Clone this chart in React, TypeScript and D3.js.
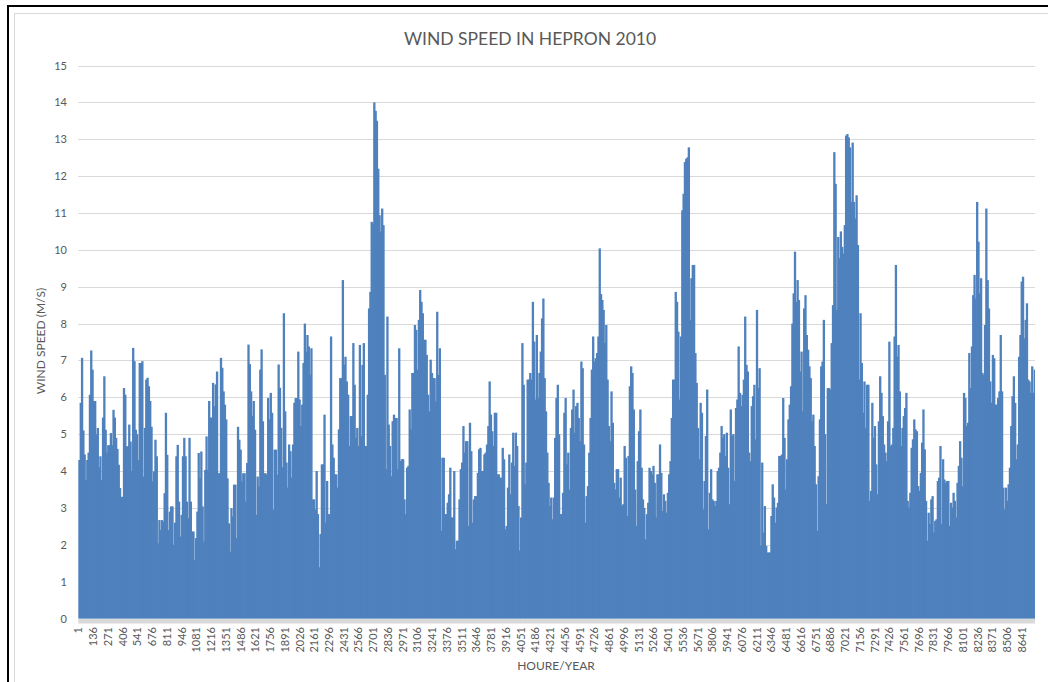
import React from "react";
import * as d3 from "d3";

// Wind speed (m/s), one value per 12-hour block of 2010 (730 blocks)
const hoursPerBlock = 12;
const windSpeed: number[] = [
  4.3,5.85,7.07,5.1,4.45,3.76,4.3,4.5,6.07,7.27,
  6.75,5.9,5.9,5.0,5.17,4.1,4.4,3.76,5.45,6.57,
  5.12,4.5,4.7,4.7,5.03,4.7,5.66,5.45,4.9,4.6,
  4.17,3.54,3.3,3.3,6.25,6.07,4.67,4.67,5.26,4.8,
  4.0,7.34,6.98,5.12,5.0,4.3,6.93,6.93,6.98,3.85,
  5.17,6.48,6.53,6.3,5.9,5.2,3.72,3.99,4.85,4.4,
  2.04,2.67,2.4,2.67,2.63,3.4,5.58,4.44,2.4,2.9,
  3.04,3.04,2.0,2.6,4.4,4.71,3.17,2.22,2.81,4.4,
  4.9,4.4,3.17,2.72,4.9,3.17,2.36,2.36,1.59,2.18,
  2.9,4.49,3.8,4.53,3.04,2.09,4.03,4.94,4.03,5.9,
  5.45,5.45,6.39,5.76,6.35,6.7,3.94,3.94,7.07,6.8,
  6.16,5.8,5.4,3.8,2.58,1.81,2.99,2.77,3.63,3.63,
  2.18,5.2,4.85,4.58,3.72,3.94,3.94,3.17,4.22,7.43,
  6.9,6.16,5.5,5.9,5.12,2.81,3.85,3.58,6.75,7.3,
  5.35,3.94,3.94,3.9,5.98,5.4,6.12,5.58,2.95,4.58,
  4.58,3.9,6.89,6.26,5.17,4.1,8.28,5.62,4.23,3.55,
  4.72,4.54,3.82,4.72,5.85,5.98,5.98,7.24,5.94,5.22,
  5.8,6.93,8.0,7.24,7.69,7.38,6.61,7.33,3.23,3.23,
  2.96,4.0,2.83,1.39,2.29,4.18,4.18,5.53,2.6,3.73,
  2.83,2.83,7.65,4.72,4.36,3.91,3.91,3.55,5.13,6.52,
  6.52,9.18,6.88,7.1,6.43,6.07,4.68,5.49,5.49,7.47,
  6.34,4.9,5.17,4.68,7.42,4.95,6.88,7.47,4.68,4.68,
  6.07,8.41,8.86,10.76,10.71,14.0,13.77,13.5,12.2,10.94,
  10.49,11.12,10.67,6.61,4.05,8.19,5.26,4.68,3.86,5.35,
  5.53,5.44,5.44,4.05,7.33,4.27,4.32,4.32,3.23,2.83,
  4.09,4.14,5.67,5.13,6.66,6.66,7.96,7.83,6.75,8.1,
  8.91,8.59,8.28,7.56,7.56,7.15,6.07,5.62,7.02,6.66,
  6.52,6.52,5.89,8.32,6.61,7.33,2.38,4.36,4.36,2.83,
  2.83,3.14,3.37,4.09,2.74,2.74,4.0,1.88,2.11,2.11,
  3.23,4.05,4.23,5.22,4.5,4.81,4.81,2.51,5.31,4.54,
  2.6,3.23,3.32,3.32,3.95,4.59,4.63,4.0,4.0,4.45,
  4.5,4.72,5.22,6.43,5.53,5.08,4.68,5.58,5.58,3.91,
  3.91,3.82,3.82,4.63,4.32,2.42,2.51,3.55,4.45,3.37,
  4.23,5.04,4.14,5.04,4.68,3.05,1.84,2.74,7.47,6.34,
  3.64,4.23,6.48,6.48,6.66,6.48,8.59,7.51,5.94,7.69,
  5.98,6.66,7.24,8.14,8.68,6.52,5.62,4.5,3.68,3.05,
  3.28,2.69,3.28,4.9,5.98,6.34,5.0,2.83,2.83,3.41,
  5.58,5.98,4.18,4.5,3.5,5.17,5.67,6.21,5.04,5.76,
  5.85,5.44,4.81,6.97,6.79,4.72,2.6,3.32,3.59,4.5,
  5.44,6.75,7.65,6.97,7.06,7.2,7.65,10.04,8.8,8.64,
  8.37,7.47,7.96,6.48,5.22,4.81,6.16,5.31,3.68,3.5,
  4.05,4.05,3.28,3.82,3.05,3.1,4.68,4.36,2.78,4.41,
  6.3,6.84,6.66,5.67,3.5,2.51,4.27,5.08,5.67,4.09,
  3.23,3.0,2.15,2.83,3.14,4.09,4.0,3.91,4.14,3.68,
  2.74,3.91,3.91,4.72,3.95,2.92,3.37,3.19,2.87,3.41,
  3.91,4.27,5.44,6.48,6.48,8.86,8.59,7.78,5.94,7.65,
  11.07,11.52,12.38,12.47,12.51,12.78,8.1,9.23,9.59,9.59,
  7.2,6.39,5.17,4.32,5.85,5.58,2.96,3.73,4.95,6.21,
  2.42,3.41,4.05,3.23,3.19,3.05,3.19,4.0,4.09,4.5,
  5.22,4.9,5.0,4.41,5.04,4.09,3.1,5.67,4.95,5.0,
  3.73,5.71,5.94,7.38,6.12,5.76,6.07,6.48,8.19,6.88,
  6.7,4.5,4.27,5.76,6.03,6.34,4.86,8.37,6.25,6.79,
  1.97,4.23,2.33,3.05,1.97,1.79,1.79,1.79,2.78,3.64,
  3.28,2.6,3.01,3.14,4.41,4.41,4.45,5.98,4.9,3.5,
  4.32,5.4,5.8,6.3,8.0,8.82,9.95,8.59,9.18,8.64,
  6.7,7.24,5.62,8.41,8.77,7.69,7.29,6.84,6.52,5.35,
  5.53,4.68,3.64,2.38,3.86,5.4,6.84,6.97,8.1,5.0,
  3.1,6.25,6.25,6.21,7.47,8.5,12.65,11.79,8.37,10.35,
  9.77,10.5,10.08,9.9,10.67,13.1,13.14,13.05,12.78,11.3,
  12.91,11.3,10.85,11.48,10.13,6.48,8.28,6.93,5.58,6.43,
  5.17,6.34,6.34,3.19,3.46,5.85,4.9,5.22,4.18,3.37,
  5.35,6.57,6.12,5.49,4.72,4.5,4.27,5.35,7.51,4.68,
  4.72,5.17,7.65,9.59,7.1,7.42,6.16,4.68,5.17,5.49,
  5.71,6.12,3.19,3.01,3.41,4.63,4.86,5.4,5.13,5.08,
  3.59,3.46,3.95,4.77,5.67,4.59,3.19,2.11,2.87,2.56,
  3.23,3.32,2.33,2.65,2.69,3.73,3.82,4.68,2.56,4.32,
  3.77,3.68,3.73,3.73,2.51,3.14,3.01,3.41,3.19,2.74,
  3.68,4.14,4.81,4.36,3.59,6.12,5.98,5.22,5.31,7.2,
  6.25,7.38,8.77,9.32,8.68,11.3,10.22,8.82,9.23,6.66,
  6.61,7.96,11.12,9.18,8.41,6.43,5.85,7.15,7.06,5.8,
  5.8,5.98,6.16,7.69,6.16,3.55,2.96,3.55,3.19,3.64,
  4.09,5.22,6.03,6.57,5.85,4.32,4.72,7.1,7.69,9.14,
  9.27,7.6,8.1,8.55,6.48,6.43,6.12,6.84,6.12,6.75,
];

const totalHours = 8760;
const xTickHours: number[] = [
  1,136,271,406,541,676,811,946,1081,1216,1351,1486,1621,1756,1891,2026,2161,2296,2431,2566,
  2701,2836,2971,3106,3241,3376,3511,3646,3781,3916,4051,4186,4321,4456,4591,4726,4861,4996,5131,5266,
  5401,5536,5671,5806,5941,6076,6211,6346,6481,6616,6751,6886,7021,7156,7291,7426,7561,7696,7831,7966,
  8101,8236,8371,8506,8641,
];
const yTicks: number[] = [0,1,2,3,4,5,6,7,8,9,10,11,12,13,14,15];

const title = "WIND SPEED IN HEPRON 2010";
const xTitle = "HOURE/YEAR";
const yTitle = "WIND SPEED (M/S)";

const W = 1048;
const H = 682;
const M = { left: 78.3, right: 1035, top: 65.5, bottom: 618.5 };
const FONT = "Lato, 'Open Sans', sans-serif";
const TEXT = "#595959";
const GRID = "#d9d9d9";
const BAR = "#4f81bd";

export default function App() {
  const x = d3.scaleLinear().domain([0, totalHours]).range([M.left, M.right]);
  const y = d3.scaleLinear().domain([0, 15]).range([M.bottom, M.top]);
  const blocks = windSpeed.map((v, i) => ({ start: i * hoursPerBlock, v }));
  const last = blocks.length - 1;

  return (
    <svg
      width={W}
      height={H}
      style={{ position: "absolute", left: 0, top: 0, background: "#fff" }}
      fontFamily={FONT}
    >
      <rect x={0} y={0} width={W} height={H} fill="#fff" />
      {/* frame */}
      <rect x={8} y={6} width={W + 50} height={H + 50} fill="none" stroke="#000" strokeWidth={2} />
      <rect x={14.5} y={13.5} width={W + 50} height={H + 50} fill="none" stroke={GRID} strokeWidth={1} />

      {/* title */}
      <text x={530} y={45} textAnchor="middle" fontSize={17.5} fill={TEXT}>
        {title}
      </text>

      {/* gridlines */}
      {yTicks.map((t) => (
        <line
          key={"g" + t}
          x1={M.left}
          x2={M.right}
          y1={Math.round(y(t)) + 0.5}
          y2={Math.round(y(t)) + 0.5}
          stroke={GRID}
          strokeWidth={1}
        />
      ))}

      {/* bars */}
      <g fill={BAR}>
        {blocks.map((b, i) => (
          <rect
            key={b.start}
            x={x(b.start)}
            y={y(b.v)}
            width={x(b.start + hoursPerBlock) - x(b.start) + (i === last ? 0 : 1)}
            height={y(0) - y(b.v)}
          />
        ))}
      </g>

      {/* x axis band */}
      <rect x={M.left} y={y(0) + 0.5} width={M.right - M.left} height={4.5} fill={GRID} />

      {/* y tick labels */}
      {yTicks.map((t) => (
        <text
          key={"yt" + t}
          x={67}
          y={y(t) + 4}
          textAnchor="end"
          fontSize={11}
          fill={TEXT}
        >
          {t}
        </text>
      ))}

      {/* x tick labels */}
      {xTickHours.map((h) => {
        const cx = x(h - 0.5);
        return (
          <text
            key={"xt" + h}
            transform={`translate(${cx + 4},${627}) rotate(-90)`}
            textAnchor="end"
            fontSize={11}
            fill={TEXT}
          >
            {h}
          </text>
        );
      })}

      {/* axis titles */}
      <text x={556} y={670} textAnchor="middle" fontSize={12} fill={TEXT}>
        {xTitle}
      </text>
      <text
        transform={`translate(45,341) rotate(-90)`}
        textAnchor="middle"
        fontSize={12}
        fill={TEXT}
      >
        {yTitle}
      </text>
    </svg>
  );
}
